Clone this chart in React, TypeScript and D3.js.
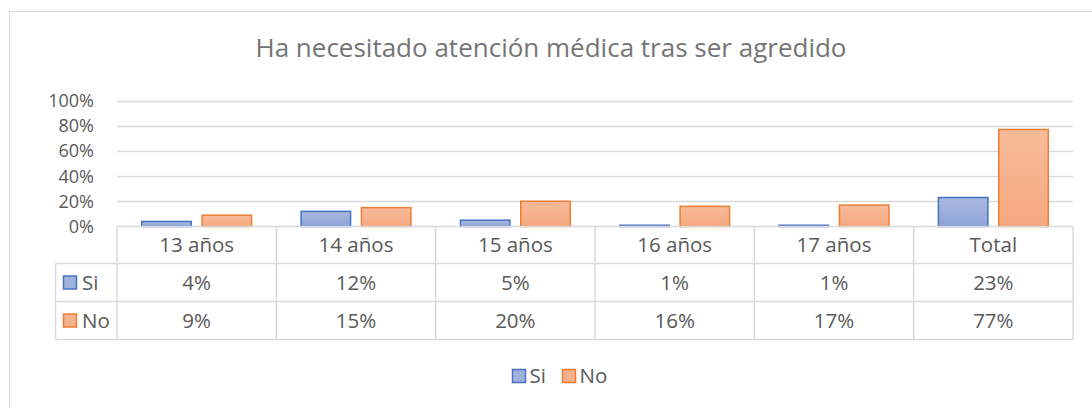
import React, { useEffect, useRef } from 'react';
import * as d3 from 'd3';

const categories = ['13 años', '14 años', '15 años', '16 años', '17 años', 'Total'];
const siValues = [4, 12, 5, 1, 1, 23];
const noValues = [9, 15, 20, 16, 17, 77];
const seriesNames = ['Si', 'No'];
const yTicks = [0, 20, 40, 60, 80, 100];

const FONT = '"Open Sans", "Noto Sans", sans-serif';
const FS = 20.5;

const App: React.FC = () => {
  const svgRef = useRef<SVGSVGElement>(null);

  useEffect(() => {
    if (!svgRef.current) return;
    const width = 1092;
    const height = 408;

    const svg = d3.select(svgRef.current);
    svg.selectAll('*').remove();
    svg.attr('width', width).attr('height', height);

    // gradients for bars
    const defs = svg.append('defs');
    const gradSi = defs.append('linearGradient').attr('id', 'gSi').attr('x1', 0).attr('y1', 0).attr('x2', 0).attr('y2', 1);
    gradSi.append('stop').attr('offset', '0%').attr('stop-color', '#a9b8df');
    gradSi.append('stop').attr('offset', '100%').attr('stop-color', '#8ea4d8');
    const gradNo = defs.append('linearGradient').attr('id', 'gNo').attr('x1', 0).attr('y1', 0).attr('x2', 0).attr('y2', 1);
    gradNo.append('stop').attr('offset', '0%').attr('stop-color', '#f7bb9a');
    gradNo.append('stop').attr('offset', '100%').attr('stop-color', '#f5a87f');

    const fills = ['url(#gSi)', 'url(#gNo)'];
    const strokes = ['#4472c4', '#ed7d31'];
    const legendFills = ['#9fb1dd', '#f5b08c'];

    // chart border
    svg.append('rect')
      .attr('x', 9.5).attr('y', 11.5)
      .attr('width', 1100).attr('height', 420)
      .attr('fill', '#fff')
      .attr('stroke', '#d9d9d9');

    // title
    svg.append('text')
      .attr('x', 551).attr('y', 57)
      .attr('text-anchor', 'middle')
      .attr('font-family', FONT)
      .attr('font-size', 26)
      .attr('fill', '#757575')
      .text('Ha necesitado atención médica tras ser agredido');

    const left = 117;
    const right = 1073;
    const x = d3.scaleBand<string>().domain(categories).range([left, right]);
    const y = d3.scaleLinear().domain([0, 100]).range([226.5, 100.5]);

    // gridlines
    svg.append('g').selectAll('line')
      .data(yTicks.slice(1))
      .join('line')
      .attr('x1', left).attr('x2', right)
      .attr('y1', d => Math.round(y(d)) + 0.5).attr('y2', d => Math.round(y(d)) + 0.5)
      .attr('stroke', '#d9d9d9').attr('stroke-width', 1.5);

    // y labels
    svg.append('g').selectAll('text')
      .data(yTicks)
      .join('text')
      .attr('x', 94).attr('y', d => y(d) + 6.5)
      .attr('text-anchor', 'end')
      .attr('font-family', FONT)
      .attr('font-size', 18)
      .attr('fill', '#595959')
      .text(d => `${d}%`);

    // bars
    const inner = d3.scaleBand<number>().domain([0, 1]).range([0, x.bandwidth()]).paddingInner(0.18).paddingOuter(0.41);
    const data = [siValues, noValues];
    data.forEach((vals, si) => {
      svg.append('g').selectAll('rect')
        .data(vals)
        .join('rect')
        .attr('x', (_, i) => (x(categories[i]) ?? 0) + (inner(si) ?? 0))
        .attr('y', d => y(d))
        .attr('width', inner.bandwidth())
        .attr('height', d => Math.max(0, y(0) - y(d)))
        .attr('fill', fills[si])
        .attr('stroke', strokes[si])
        .attr('stroke-width', 1.5);
    });

    // data table
    const rowTop = [226.5, 263.5, 301.5, 339.5];
    const tableLeft = 55.5;
    const tg = svg.append('g');
    const lineColor = '#d9d9d9';
    tg.append('line').attr('x1', left).attr('x2', right).attr('y1', rowTop[0]).attr('y2', rowTop[0]).attr('stroke', lineColor).attr('stroke-width', 1.5);
    rowTop.slice(1).forEach(yy => {
      tg.append('line').attr('x1', tableLeft).attr('x2', right).attr('y1', yy).attr('y2', yy).attr('stroke', lineColor).attr('stroke-width', 1.5);
    });
    tg.append('line').attr('x1', tableLeft).attr('x2', tableLeft).attr('y1', rowTop[1]).attr('y2', rowTop[3]).attr('stroke', lineColor).attr('stroke-width', 1.5);
    categories.forEach(c => {
      const xx = x(c) ?? 0;
      tg.append('line').attr('x1', xx).attr('x2', xx).attr('y1', rowTop[0]).attr('y2', rowTop[3]).attr('stroke', lineColor).attr('stroke-width', 1.5);
    });
    tg.append('line').attr('x1', right).attr('x2', right).attr('y1', rowTop[0]).attr('y2', rowTop[3]).attr('stroke', lineColor).attr('stroke-width', 1.5);

    // header labels
    tg.selectAll('text.cat')
      .data(categories)
      .join('text')
      .attr('class', 'cat')
      .attr('x', d => (x(d) ?? 0) + x.bandwidth() / 2)
      .attr('y', (rowTop[0] + rowTop[1]) / 2 + 6.5)
      .attr('text-anchor', 'middle')
      .attr('font-family', FONT)
      .attr('font-size', FS)
      .attr('fill', '#595959')
      .text(d => d);

    // rows
    data.forEach((vals, si) => {
      const cy = (rowTop[si + 1] + rowTop[si + 2]) / 2;
      tg.append('rect')
        .attr('x', 63.5).attr('y', cy - 6.5)
        .attr('width', 13).attr('height', 13)
        .attr('fill', legendFills[si]).attr('stroke', strokes[si]).attr('stroke-width', 1.5);
      tg.append('text')
        .attr('x', 82).attr('y', cy + 7)
        .attr('font-family', FONT).attr('font-size', FS).attr('fill', '#595959')
        .text(seriesNames[si]);
      tg.append('g').selectAll('text')
        .data(vals)
        .join('text')
        .attr('x', (_, i) => (x(categories[i]) ?? 0) + x.bandwidth() / 2)
        .attr('y', cy + 7)
        .attr('text-anchor', 'middle')
        .attr('font-family', FONT).attr('font-size', FS).attr('fill', '#595959')
        .text(d => `${d}%`);
    });

    // legend
    const lg = svg.append('g');
    const legendX = [512.5, 562.5];
    seriesNames.forEach((name, i) => {
      lg.append('rect')
        .attr('x', legendX[i]).attr('y', 369.5)
        .attr('width', 13).attr('height', 13)
        .attr('fill', legendFills[i]).attr('stroke', strokes[i]).attr('stroke-width', 1.5);
      lg.append('text')
        .attr('x', legendX[i] + 17).attr('y', 383)
        .attr('font-family', FONT).attr('font-size', FS).attr('fill', '#595959')
        .text(name);
    });
  }, []);

  return <svg ref={svgRef} style={{ position: 'absolute', left: 0, top: 0, display: 'block' }} />;
};

export default App;
